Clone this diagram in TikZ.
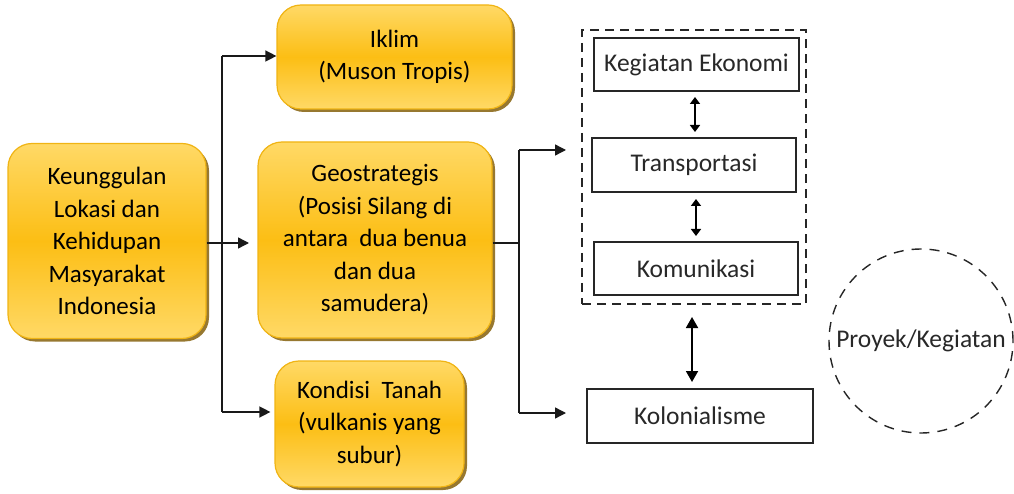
\documentclass[tikz,border=0pt]{standalone}
\usepackage{fontspec}
\setmainfont{Carlito}
\usetikzlibrary{arrows.meta,shadows}
\definecolor{boxlight}{RGB}{255,217,102}
\definecolor{boxmid}{RGB}{252,190,20}
\definecolor{boxedge}{RGB}{240,180,20}
\definecolor{boxshadow}{RGB}{140,105,25}
\definecolor{txtgray}{RGB}{40,40,40}
\tikzset{
  orangebox/.style={draw=boxedge, line width=1.2pt, rounded corners=24pt,
    top color=boxlight, bottom color=boxlight, middle color=boxmid,
    drop shadow={shadow xshift=3pt, shadow yshift=-3pt, fill=boxshadow, opacity=0.9},
    align=center, font=\fontsize{25}{32.5}\selectfont, inner sep=0pt},
  whitebox/.style={draw=black!85, line width=1.4pt, fill=white, font=\fontsize{25.5}{28}\selectfont\color{txtgray}, inner sep=0pt},
  conn/.style={line width=1.4pt, draw=black!90},
  arr/.style={conn, -{Triangle[length=11pt,width=11pt]}},
  darr/.style={line width=1.6pt, {Triangle[length=7pt,width=10pt]}-{Triangle[length=7pt,width=10pt]}},
  darrbig/.style={line width=1.8pt, {Triangle[length=11pt,width=12pt]}-{Triangle[length=11pt,width=12pt]}},
}
\begin{document}
\begin{tikzpicture}[x=1pt,y=-1pt]
\useasboundingbox (0,0) rectangle (1014,494);
% orange boxes
\node[orangebox, minimum width=198pt, minimum height=195pt] (main) at (107,241)
  {Keunggulan\\Lokasi dan\\Kehidupan\\Masyarakat\\Indonesia};
\node[orangebox, minimum width=235pt, minimum height=104pt] (iklim) at (394.5,57)
  {Iklim\\(Muson Tropis)};
\node[orangebox, minimum width=234pt, minimum height=196pt] (geo) at (375,240)
  {Geostrategis\\(Posisi Silang di\\antara\ \ dua benua\\dan dua\\samudera)};
\node[orangebox, minimum width=189pt, minimum height=126pt] (tanah) at (369.5,424)
  {Kondisi\ \ Tanah\\(vulkanis yang\\subur)};
% right side
\node[draw=black!85, dashed, dash pattern=on 9pt off 6pt, line width=1.4pt, minimum width=224pt, minimum height=274pt, inner sep=0pt] (group) at (694,167) {};
\node[whitebox, minimum width=205pt, minimum height=53pt] (eko) at (696.5,64.5) {Kegiatan Ekonomi};
\node[whitebox, minimum width=204pt, minimum height=54pt] (trans) at (694,165) {Transportasi};
\node[whitebox, minimum width=204pt, minimum height=53pt] (komu) at (696,268.5) {Komunikasi};
\node[whitebox, minimum width=226pt, minimum height=54pt] (kolo) at (700,416) {Kolonialisme};
\node[draw=black!85, dashed, dash pattern=on 10pt off 8pt, line width=1.4pt, circle, minimum size=184pt, inner sep=0pt,
  font=\fontsize{25.5}{28}\selectfont\color{txtgray}] (proyek) at (921,341) {Proyek/Kegiatan};
% left connectors
\coordinate (vtop) at (222,56);
\coordinate (vbot) at (222,412);
\coordinate (mainend) at (249,243);
\draw[arr] (main.east |- 0,243) -- (mainend);
\draw[conn] (vtop) -- (vbot);
\draw[arr] (vtop) -- (iklim.west |- vtop);
\draw[arr] (vbot) -- ([xshift=-4pt]tanah.west |- vbot);
% right connectors
\coordinate (rtop) at (519,150);
\coordinate (rbot) at (519,413);
\coordinate (rmid) at (519,243);
\coordinate (atop) at (566,150);
\coordinate (abot) at (566,413);
\draw[conn] (geo.east |- rmid) -- (rmid);
\draw[conn] (rtop) -- (rbot);
\draw[arr] (rtop) -- (atop);
\draw[arr] (rbot) -- (abot);
% double arrows
\draw[darr] (695,97) -- (695,132);
\draw[darr] (696,199) -- (696,236);
\draw[darrbig] (692,317) -- (692,382);
\end{tikzpicture}
\end{document}
